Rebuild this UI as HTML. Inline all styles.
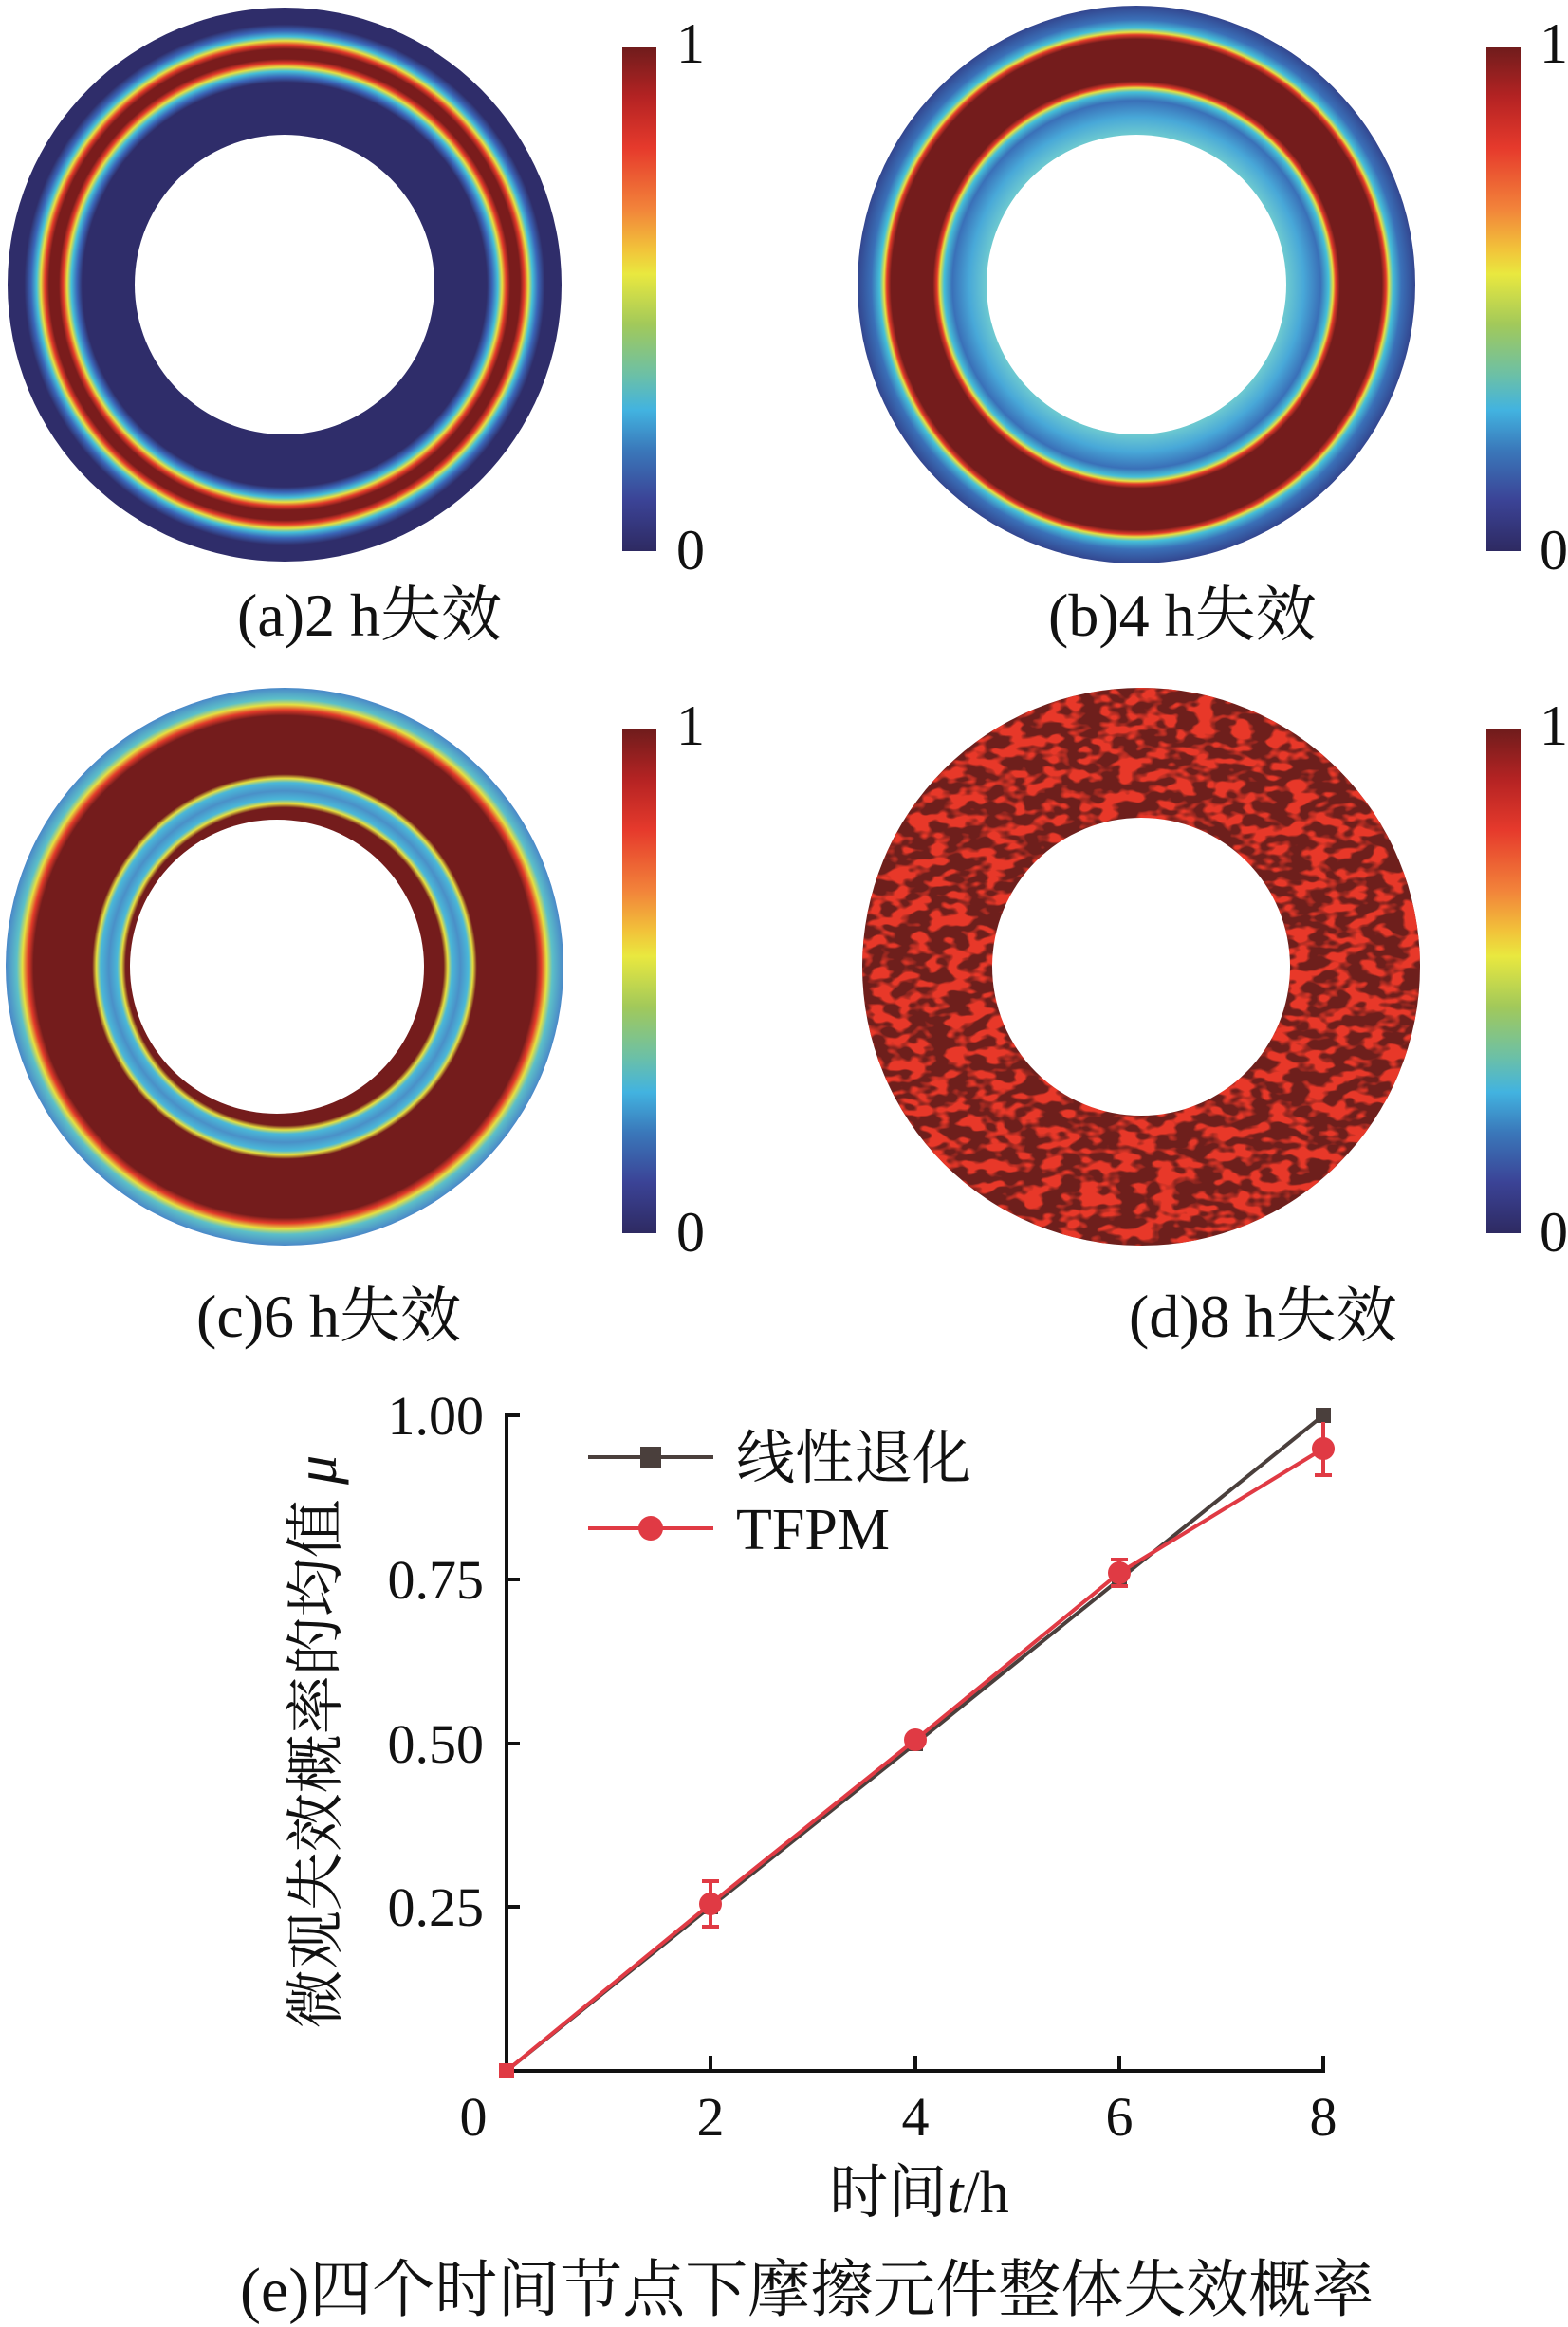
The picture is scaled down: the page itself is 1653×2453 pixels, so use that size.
<!DOCTYPE html>
<html><head><meta charset="utf-8"><style>
html,body{margin:0;padding:0;background:#fff}
svg{display:block}
text{font-family:"Liberation Serif","Noto Serif CJK SC",serif;fill:#111}
</style></head><body>
<svg width="1653" height="2453" viewBox="0 0 1653 2453" xmlns="http://www.w3.org/2000/svg">
<defs>
<linearGradient id="jet" x1="0" y1="0" x2="0" y2="1">
<stop offset="0" stop-color="#701c1c"/><stop offset="0.1" stop-color="#b52323"/><stop offset="0.2" stop-color="#e63a2c"/>
<stop offset="0.32" stop-color="#f2833a"/><stop offset="0.4" stop-color="#f2c23a"/><stop offset="0.45" stop-color="#e9e83f"/>
<stop offset="0.55" stop-color="#a2c95a"/><stop offset="0.65" stop-color="#6cc0a6"/><stop offset="0.72" stop-color="#42b3e0"/>
<stop offset="0.8" stop-color="#3a78ba"/><stop offset="0.9" stop-color="#3b4396"/><stop offset="1" stop-color="#2e2a62"/>
</linearGradient>
<radialGradient id="ga" cx="0.5" cy="0.5" r="0.5">
<stop offset="0.54" stop-color="#2f2d6a"/><stop offset="0.73" stop-color="#2f2d6a"/><stop offset="0.75" stop-color="#3a66b8"/>
<stop offset="0.77" stop-color="#45c0d8"/><stop offset="0.785" stop-color="#e6e040"/><stop offset="0.80" stop-color="#e23a2a"/>
<stop offset="0.815" stop-color="#7a1c1c"/><stop offset="0.85" stop-color="#7a1c1c"/><stop offset="0.865" stop-color="#e23a2a"/>
<stop offset="0.88" stop-color="#e6e040"/><stop offset="0.895" stop-color="#45c0d8"/><stop offset="0.915" stop-color="#3a66b8"/>
<stop offset="0.94" stop-color="#2f2d6a"/><stop offset="1" stop-color="#2f2d6a"/>
</radialGradient>
<radialGradient id="gb" cx="0.5" cy="0.5" r="0.5">
<stop offset="0.54" stop-color="#6cc8d0"/><stop offset="0.6" stop-color="#48a8d8"/><stop offset="0.66" stop-color="#3a70b8"/>
<stop offset="0.69" stop-color="#45c0d8"/><stop offset="0.705" stop-color="#e6e040"/><stop offset="0.715" stop-color="#e23a2a"/>
<stop offset="0.73" stop-color="#741c1c"/><stop offset="0.88" stop-color="#741c1c"/><stop offset="0.895" stop-color="#e23a2a"/>
<stop offset="0.905" stop-color="#e6e040"/><stop offset="0.92" stop-color="#45c0d8"/><stop offset="0.95" stop-color="#3a70b8"/>
<stop offset="1" stop-color="#33468f"/>
</radialGradient>
<radialGradient id="gc" cx="0.5" cy="0.5" r="0.5">
<stop offset="0.53" stop-color="#741c1c"/><stop offset="0.57" stop-color="#741c1c"/><stop offset="0.585" stop-color="#e6e040"/>
<stop offset="0.6" stop-color="#4ab8d8"/><stop offset="0.63" stop-color="#4a90c8"/><stop offset="0.66" stop-color="#4ab8d8"/>
<stop offset="0.675" stop-color="#e6e040"/><stop offset="0.69" stop-color="#741c1c"/><stop offset="0.9" stop-color="#741c1c"/>
<stop offset="0.92" stop-color="#e23a2a"/><stop offset="0.94" stop-color="#e6e040"/><stop offset="0.96" stop-color="#5cc0c8"/>
<stop offset="1" stop-color="#4a88c8"/>
</radialGradient>
<filter id="noise" x="0" y="0" width="100%" height="100%" color-interpolation-filters="sRGB">
<feTurbulence type="fractalNoise" baseFrequency="0.05 0.085" numOctaves="2" seed="4" result="t"/>
<feColorMatrix in="t" type="matrix" values="0 0 0 0 0.91  0 0 0 0 0.22  0 0 0 0 0.16  0 0 0 7 -3.2" result="c"/>
<feComposite in="c" in2="SourceGraphic" operator="in"/>
</filter>
</defs>

<!-- (a) -->
<circle cx="300" cy="300" r="292" fill="url(#ga)"/>
<circle cx="300" cy="300" r="158" fill="#fff"/>
<rect x="656" y="50" width="36" height="531" fill="url(#jet)"/>
<text x="713" y="66" font-size="60">1</text><text x="713" y="600" font-size="60">0</text>
<text x="250" y="670" font-size="64">(a)2 h失效</text>

<!-- (b) -->
<circle cx="1198" cy="300" r="294" fill="url(#gb)"/>
<circle cx="1198" cy="300" r="158" fill="#fff"/>
<rect x="1567" y="50" width="36" height="531" fill="url(#jet)"/>
<text x="1623" y="66" font-size="60">1</text><text x="1623" y="600" font-size="60">0</text>
<text x="1105" y="670" font-size="64">(b)4 h失效</text>

<!-- (c) -->
<circle cx="300" cy="1019" r="294" fill="url(#gc)"/>
<circle cx="292" cy="1019" r="155" fill="#fff"/>
<rect x="656" y="769" width="36" height="531" fill="url(#jet)"/>
<text x="713" y="785" font-size="60">1</text><text x="713" y="1319" font-size="60">0</text>
<text x="207" y="1409" font-size="64">(c)6 h失效</text>

<!-- (d) -->
<circle cx="1203" cy="1019" r="294" fill="#6e1f1c"/>
<circle cx="1203" cy="1019" r="294" fill="#fff" filter="url(#noise)"/>
<circle cx="1203" cy="1019" r="157" fill="#fff"/>
<rect x="1567" y="769" width="36" height="531" fill="url(#jet)"/>
<text x="1623" y="785" font-size="60">1</text><text x="1623" y="1319" font-size="60">0</text>
<text x="1190" y="1409" font-size="64">(d)8 h失效</text>

<!-- chart -->
<g stroke="#111" stroke-width="4" fill="none">
<line x1="534" y1="1490" x2="534" y2="2185"/>
<line x1="532" y1="2183" x2="1397" y2="2183"/>
<line x1="534" y1="1492" x2="548" y2="1492"/><line x1="534" y1="1665" x2="548" y2="1665"/>
<line x1="534" y1="1838" x2="548" y2="1838"/><line x1="534" y1="2010" x2="548" y2="2010"/>
<line x1="749" y1="2183" x2="749" y2="2167"/><line x1="965" y1="2183" x2="965" y2="2167"/>
<line x1="1180" y1="2183" x2="1180" y2="2167"/><line x1="1395" y1="2183" x2="1395" y2="2167"/>
</g>
<g font-size="58" text-anchor="end">
<text x="510" y="1512">1.00</text><text x="510" y="1685">0.75</text>
<text x="510" y="1858">0.50</text><text x="510" y="2030">0.25</text>
</g>
<g font-size="58" text-anchor="middle">
<text x="499" y="2251">0</text><text x="749" y="2251">2</text><text x="965" y="2251">4</text>
<text x="1180" y="2251">6</text><text x="1395" y="2251">8</text>
</g>
<text x="969" y="2332" font-size="62" text-anchor="middle">时间<tspan font-style="italic">t</tspan>/h</text>
<text transform="translate(354,1836) rotate(-90)" font-size="62" text-anchor="middle">微观失效概率的均值 <tspan font-style="italic">μ</tspan></text>

<polyline points="534,2183 749,2010 965,1838 1180,1665 1395,1492" fill="none" stroke="#4a3f3c" stroke-width="4"/>
<g fill="#4a3f3c">
<rect x="526" y="2175" width="16" height="16"/><rect x="741" y="2002" width="16" height="16"/>
<rect x="957" y="1830" width="16" height="16"/><rect x="1172" y="1657" width="16" height="16"/><rect x="1387" y="1484" width="16" height="16"/>
</g>
<polyline points="534,2183 749,2007 965,1834 1180,1658 1395,1527" fill="none" stroke="#e03a44" stroke-width="4"/>
<g stroke="#e03a44" stroke-width="4">
<line x1="749" y1="1983" x2="749" y2="2031"/><line x1="740" y1="1983" x2="758" y2="1983"/><line x1="740" y1="2031" x2="758" y2="2031"/>
<line x1="1180" y1="1644" x2="1180" y2="1672"/><line x1="1171" y1="1644" x2="1189" y2="1644"/><line x1="1171" y1="1672" x2="1189" y2="1672"/>
<line x1="1395" y1="1499" x2="1395" y2="1555"/><line x1="1386" y1="1555" x2="1404" y2="1555"/>
</g>
<g fill="#e03a44">
<rect x="526" y="2175" width="16" height="16"/>
<circle cx="749" cy="2007" r="12"/><circle cx="965" cy="1834" r="12"/><circle cx="1180" cy="1658" r="12"/><circle cx="1395" cy="1527" r="12"/>
</g>

<!-- legend -->
<line x1="620" y1="1536" x2="752" y2="1536" stroke="#4a3f3c" stroke-width="4"/>
<rect x="675" y="1525" width="22" height="22" fill="#4a3f3c"/>
<text x="776" y="1558" font-size="62">线性退化</text>
<line x1="620" y1="1611" x2="752" y2="1611" stroke="#e03a44" stroke-width="4"/>
<circle cx="686" cy="1611" r="13" fill="#e03a44"/>
<text x="776" y="1633" font-size="62">TFPM</text>

<text x="253" y="2436" font-size="66">(e)四个时间节点下摩擦元件整体失效概率</text>
</svg>
</body></html>
